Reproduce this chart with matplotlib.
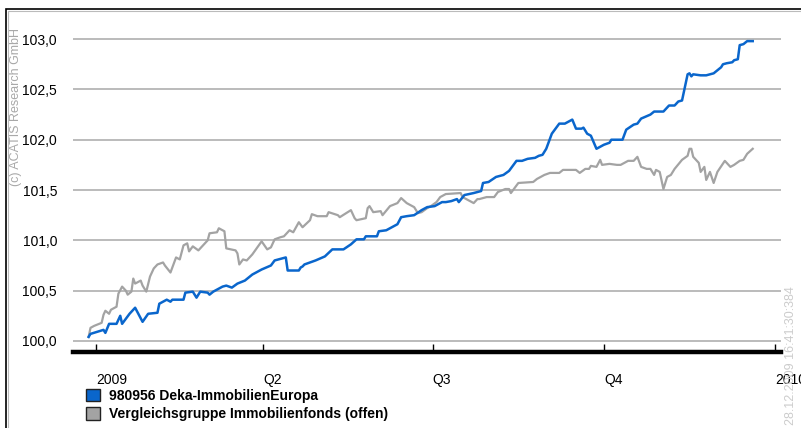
import matplotlib
matplotlib.use("Agg")
import matplotlib.pyplot as plt
import matplotlib.dates as mdates
from matplotlib.patches import Patch, Rectangle
from datetime import datetime
import numpy as np

plt.rcParams["font.family"] = ["Liberation Sans", "DejaVu Sans"]

# days counted from 2009-01-01
blue_days = [-4, -3, 4, 5, 7, 11, 13, 14, 18, 21, 25, 28, 33, 34, 38, 40, 41, 47, 48, 52,
             54, 56, 60, 61, 63, 68, 70, 73, 76, 80, 84, 86, 89, 94, 96, 102, 103, 109, 110, 111,
             112, 118, 123, 127, 133, 137, 140, 144, 145, 151, 152, 156, 162, 164, 167, 171, 175, 178, 182, 186,
             188, 191, 194, 195, 198, 203, 207, 208, 211, 215, 219, 222, 226, 229, 232, 236, 238, 240, 242, 244,
             245, 249, 252, 256, 258, 261, 262, 264, 266, 269, 273, 276, 277, 283, 285, 289, 291, 293, 298, 300,
             305, 308, 311, 313, 315, 318, 319, 320, 321, 325, 328, 332, 336, 337, 339, 342, 343, 345, 346, 348,
             350, 353]
blue_vals = [100.04, 100.07, 100.11, 100.08, 100.17, 100.17, 100.25, 100.17, 100.27, 100.33, 100.19, 100.27, 100.28, 100.37, 100.41, 100.39, 100.41, 100.41, 100.48, 100.49,
             100.43, 100.49, 100.48, 100.46, 100.49, 100.54, 100.55, 100.53, 100.57, 100.60, 100.66, 100.68, 100.71, 100.75, 100.80, 100.83, 100.70, 100.70, 100.73, 100.74,
             100.76, 100.80, 100.84, 100.91, 100.91, 100.96, 101.01, 101.01, 101.04, 101.04, 101.09, 101.10, 101.16, 101.23, 101.24, 101.25, 101.30, 101.33, 101.34, 101.38,
             101.38, 101.39, 101.41, 101.38, 101.45, 101.47, 101.49, 101.57, 101.58, 101.63, 101.65, 101.69, 101.79, 101.79, 101.81, 101.82, 101.84, 101.85, 101.91, 102.01,
             102.06, 102.16, 102.16, 102.20, 102.11, 102.11, 102.12, 102.06, 102.04, 101.91, 101.95, 101.97, 102.00, 102.00, 102.10, 102.15, 102.16, 102.21, 102.25, 102.28,
             102.28, 102.34, 102.34, 102.38, 102.39, 102.65, 102.66, 102.63, 102.65, 102.64, 102.64, 102.66, 102.72, 102.75, 102.76, 102.77, 102.79, 102.80, 102.94, 102.95,
             102.98, 102.98]

gray_days = [-4, -3, -1, 3, 4, 5, 7, 8, 11, 12, 14, 16, 17, 19, 20, 21, 24, 25, 27, 29,
             31, 33, 36, 37, 40, 43, 45, 47, 49, 50, 52, 55, 60, 61, 65, 66, 69, 70, 75, 76,
             77, 79, 81, 84, 89, 92, 94, 96, 99, 101, 104, 106, 109, 111, 115, 116, 119, 124, 125, 130,
             131, 137, 139, 140, 145, 146, 147, 149, 153, 154, 158, 162, 164, 167, 171, 173, 175, 178, 180, 183,
             185, 188, 196, 197, 203, 205, 206, 210, 214, 216, 220, 222, 223, 227, 235, 237, 241, 244, 249, 251,
             258, 260, 263, 265, 266, 269, 271, 272, 276, 280, 282, 286, 289, 291, 293, 296, 298, 300, 301, 303,
             305, 307, 309, 311, 315, 318, 319, 320, 321, 324, 325, 327, 328, 330, 332, 334, 338, 341, 343, 346,
             348, 350, 353]
gray_vals = [100.04, 100.13, 100.15, 100.18, 100.26, 100.30, 100.27, 100.31, 100.34, 100.47, 100.54, 100.50, 100.46, 100.49, 100.62, 100.57, 100.60, 100.55, 100.49, 100.64,
             100.72, 100.76, 100.78, 100.75, 100.68, 100.83, 100.81, 100.95, 100.97, 100.89, 100.94, 100.90, 101.00, 101.07, 101.08, 101.12, 101.09, 100.92, 100.90, 100.87,
             100.76, 100.81, 100.80, 100.86, 100.99, 100.91, 100.93, 101.01, 101.03, 101.04, 101.10, 101.08, 101.18, 101.13, 101.20, 101.26, 101.24, 101.24, 101.28, 101.25,
             101.23, 101.30, 101.22, 101.20, 101.22, 101.32, 101.34, 101.28, 101.29, 101.25, 101.34, 101.37, 101.42, 101.37, 101.33, 101.27, 101.28, 101.32, 101.34, 101.38,
             101.43, 101.46, 101.47, 101.43, 101.37, 101.41, 101.41, 101.43, 101.43, 101.48, 101.51, 101.51, 101.47, 101.57, 101.58, 101.61, 101.65, 101.67, 101.67, 101.70,
             101.70, 101.67, 101.71, 101.71, 101.74, 101.73, 101.80, 101.75, 101.76, 101.75, 101.75, 101.79, 101.79, 101.83, 101.73, 101.71, 101.71, 101.65, 101.70, 101.68,
             101.51, 101.63, 101.65, 101.71, 101.80, 101.84, 101.91, 101.91, 101.83, 101.77, 101.68, 101.73, 101.60, 101.68, 101.57, 101.68, 101.79, 101.73, 101.75, 101.79,
             101.80, 101.86, 101.91]

tick_dates = [datetime(2009, 1, 1), datetime(2009, 4, 1), datetime(2009, 7, 1), datetime(2009, 10, 1), datetime(2010, 1, 1)]
tick_labels = ["2009", "Q2", "Q3", "Q4", "2010"]
y_ticks = [100.0, 100.5, 101.0, 101.5, 102.0, 102.5, 103.0]
y_labels = ["100,0", "100,5", "101,0", "101,5", "102,0", "102,5", "103,0"]
names = ["980956 Deka-ImmobilienEuropa", "Vergleichsgruppe Immobilienfonds (offen)"]
blue = "#0a66cc"
gray = "#a3a3a3"

base = mdates.date2num(datetime(2009, 1, 1))
bx = base + np.array(blue_days)
gx = base + np.array(gray_days)

fig = plt.figure(figsize=(8.01, 4.28), dpi=100)
ax = fig.add_axes([73 / 801, 1 - 352 / 428, (781 - 73) / 801, (352 - 20) / 428])

ax.plot(gx, gray_vals, color=gray, lw=1.6, zorder=3)
ax.plot(bx, blue_vals, color=blue, lw=1.8, zorder=4)

ax.set_xlim(base - 12.4, base + 368.2)
ax.set_ylim(99.89, 103.19)
ax.set_yticks(y_ticks)
ax.set_yticklabels(y_labels)
ax.set_xticks(mdates.date2num(tick_dates))
ax.set_xticklabels(tick_labels, ha="left")
ax.grid(axis="y", color="#b5b5b5", lw=1.3)
ax.set_axisbelow(True)

for s in ["top", "right", "left"]:
    ax.spines[s].set_visible(False)
ax.spines["bottom"].set_linewidth(3.2)
ax.spines["bottom"].set_color("black")
ax.tick_params(axis="x", direction="in", length=6, width=1, pad=15, labelsize=10, colors="black")
ax.tick_params(axis="y", length=0, pad=11.5, labelsize=10)
for lab in ax.get_xticklabels():
    lab.set_clip_on(False)

handles = [Patch(facecolor=blue, edgecolor="#222222", lw=1),
           Patch(facecolor=gray, edgecolor="#222222", lw=1)]
fig.legend(handles, names, loc="upper left", bbox_to_anchor=(86 / 801, 1 - 389 / 428),
           frameon=False, borderpad=0, borderaxespad=0, handlelength=1.0, handleheight=1.0,
           handletextpad=0.65, labelspacing=0.3, prop={"weight": "bold", "size": 10})

# frame
fig.patches.append(Rectangle((6 / 801, -0.1), 1.1, 1.1 - 9 / 428, transform=fig.transFigure,
                             fill=False, edgecolor="black", lw=1.2))
fig.patches.append(Rectangle((7.5 / 801, -0.1), 1.1, 1.1 - 10.5 / 428, transform=fig.transFigure,
                             fill=False, edgecolor="#bbbbbb", lw=0.8))

fig.text(16 / 801, 1 - 107 / 428, "(c) ACATIS Research GmbH", rotation=90, ha="center", va="center",
         color="#a8a8a8", fontsize=9)
fig.text(791 / 801, 1 - 286 / 428, "28.12.2009 16:41:30:384", rotation=90, ha="center", va="top",
         color="#cccccc", fontsize=9)

fig.savefig("out.png", dpi=100)
